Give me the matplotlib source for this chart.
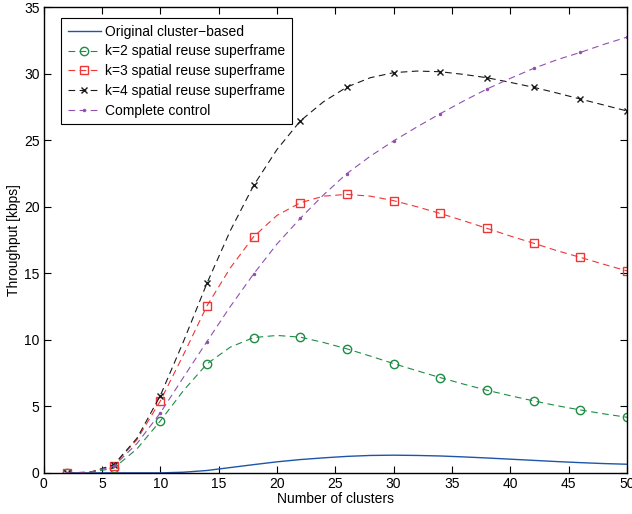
import matplotlib
matplotlib.use("Agg")
import matplotlib.pyplot as plt

plt.rcParams['font.family'] = ['Liberation Sans', 'DejaVu Sans']
plt.rcParams['font.size'] = 10

# number of clusters (markers every 4 clusters, starting at 2)
clusters = [2, 4, 6, 8, 10, 12, 14, 16, 18, 20, 22, 24, 26,
            28, 30, 32, 34, 36, 38, 40, 42, 44, 46, 48, 50]

original = [0, 0, 0, 0, 0, 0.05, 0.18, 0.4, 0.62, 0.83, 1.0, 1.13, 1.24,
            1.31, 1.33, 1.31, 1.27, 1.2, 1.12, 1.03, 0.94, 0.85, 0.77, 0.7, 0.65]
k2 = [0, 0.03, 0.35, 1.8, 3.9, 6.2, 8.19, 9.45, 10.17, 10.33, 10.2, 9.8, 9.32,
      8.78, 8.21, 7.68, 7.16, 6.67, 6.21, 5.8, 5.41, 5.05, 4.73, 4.44, 4.18]
k3 = [0, 0.05, 0.55, 2.5, 5.4, 8.9, 12.55, 15.4, 17.75, 19.35, 20.3, 20.8, 20.93,
      20.8, 20.46, 20.0, 19.5, 18.95, 18.38, 17.8, 17.26, 16.7, 16.2, 15.68, 15.18]
k4 = [0, 0.05, 0.6, 2.6, 5.8, 9.9, 14.25, 18.2, 21.6, 24.3, 26.45, 27.9, 29.0,
      29.7, 30.08, 30.2, 30.15, 29.95, 29.7, 29.35, 28.98, 28.55, 28.1, 27.65, 27.2]
complete = [0, 0.05, 0.5, 2.2, 4.5, 7.2, 9.87, 12.5, 14.95, 17.2, 19.13, 20.9, 22.5,
            23.8, 24.95, 26.0, 27.0, 27.95, 28.85, 29.65, 30.4, 31.05, 31.6, 32.2, 32.75]

dash = (0, (6, 4))

fig = plt.figure(figsize=(6.32, 5.14), dpi=100)
ax = fig.add_axes([0.069, 0.080, 0.923, 0.906])

ax.plot(clusters, original, color='#1f55a8', lw=1.0, label='Original cluster\u2212based')
ax.plot(clusters, k2, color='#1e8c45', lw=0.8, ls=dash, marker='o', ms=6,
        mfc='none', markevery=2, label='k=2 spatial reuse superframe')
ax.plot(clusters, k3, color='#f03535', lw=0.8, ls=dash, marker='s', ms=5.5,
        mfc='none', markevery=2, label='k=3 spatial reuse superframe')
ax.plot(clusters, k4, color='#1a1a1a', lw=0.8, ls=dash, marker='x', ms=5,
        markevery=2, label='k=4 spatial reuse superframe')
ax.plot(clusters, complete, color='#9050b0', lw=0.8, ls=dash, marker='.', ms=3,
        markevery=2, label='Complete control')

ax.set_xlim(0, 50)
ax.set_ylim(0, 35)
ax.set_xticks(range(0, 51, 5))
ax.set_yticks(range(0, 36, 5))
ax.tick_params(direction='in', top=True, right=True, length=5, width=0.8,
               labelsize=10, pad=3)
for sp in ax.spines.values():
    sp.set_linewidth(1.0)

ax.set_xlabel('Number of clusters', labelpad=1)
ax.set_ylabel('Throughput [kbps]', labelpad=2)

leg = ax.legend(loc='upper left', bbox_to_anchor=(0.0305, 0.976), fontsize=10,
                fancybox=False, framealpha=1, edgecolor='black',
                handlelength=2.4, handletextpad=0.3, borderpad=0.45,
                labelspacing=0.42, borderaxespad=0)
leg.get_frame().set_linewidth(0.8)

fig.savefig('out.png', dpi=100)
